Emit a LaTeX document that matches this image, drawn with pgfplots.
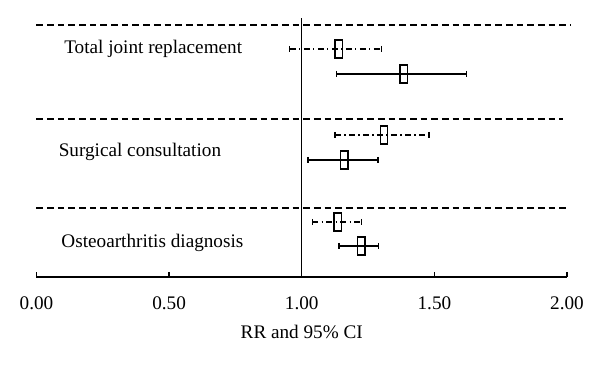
\documentclass[border=0pt]{standalone}
\usepackage{fontspec}
\setmainfont{Liberation Serif}
\usepackage{pgfplots}
\pgfplotsset{compat=1.18}
\pgfdeclareplotmark{tallbox}{%
  \pgfpathrectangle{\pgfpoint{-2.8pt}{-6.8pt}}{\pgfpoint{5.6pt}{13.6pt}}%
  \pgfusepathqstroke}
\tikzset{
  ddot/.style={dash pattern=on 4.5pt off 2.5pt on 1pt off 2.5pt},
  hdash/.style={dash pattern=on 5pt off 3pt, line width=0.8pt},
}
\begin{document}
\begin{tikzpicture}
\path[use as bounding box] (-27.375pt,-66pt) rectangle (422.625pt,207.75pt);
\begin{axis}[
  at={(0,0)}, anchor=south west,
  scale only axis,
  width=397.9pt, height=194.25pt,
  xmin=0, xmax=2, ymin=0, ymax=259,
  axis x line=bottom, axis y line=none,
  axis line style={-, line width=1pt},
  xtick={0,0.5,1,1.5,2},
  xticklabels={0.00,0.50,1.00,1.50,2.00},
  tick align=inside,
  major tick length=3.5pt,
  tick style={line width=1pt, black},
  xticklabel style={anchor=center, yshift=-19.5pt, font=\fontsize{14.4}{16}\selectfont},
  xlabel={RR and 95\% CI},
  xlabel style={at={(axis description cs:0.5,0)}, anchor=center, yshift=-41.25pt, font=\fontsize{14.4}{16}\selectfont},
  clip=false,
]
% reference line at RR = 1
\addplot[black, line width=1pt] coordinates {(1,0) (1,259)};
% separators
\addplot[black, hdash] coordinates {(0,252) (2.011,252)};
\addplot[black, hdash] coordinates {(0,158) (1.985,158)};
\addplot[black, hdash] coordinates {(0,69) (2.0,69)};
% Total joint replacement
\addplot[black, line width=0.95pt, ddot, mark=|, mark size=2.3pt, mark options={solid}] coordinates {(0.955,228) (1.30,228)};
\addplot[black, line width=1.1pt, only marks, mark=tallbox] coordinates {(1.14,228)};
\addplot[black, line width=0.95pt, mark=|, mark size=2.3pt] coordinates {(1.13,203) (1.62,203)};
\addplot[black, line width=1.1pt, only marks, mark=tallbox] coordinates {(1.385,203)};
% Surgical consultation
\addplot[black, line width=0.95pt, ddot, mark=|, mark size=2.3pt, mark options={solid}] coordinates {(1.125,142) (1.48,142)};
\addplot[black, line width=1.1pt, only marks, mark=tallbox] coordinates {(1.31,142)};
\addplot[black, line width=0.95pt, mark=|, mark size=2.3pt] coordinates {(1.023,117) (1.287,117)};
\addplot[black, line width=1.1pt, only marks, mark=tallbox] coordinates {(1.16,117)};
% Osteoarthritis diagnosis
\addplot[black, line width=0.95pt, ddot, mark=|, mark size=2.3pt, mark options={solid}] coordinates {(1.04,55) (1.225,55)};
\addplot[black, line width=1.1pt, only marks, mark=tallbox] coordinates {(1.135,55)};
\addplot[black, line width=0.95pt, mark=|, mark size=2.3pt] coordinates {(1.14,31) (1.29,31)};
\addplot[black, line width=1.1pt, only marks, mark=tallbox] coordinates {(1.225,31)};
% row labels
\node[font=\fontsize{14.4}{16}\selectfont] at (axis cs:0.44,228) {Total joint replacement};
\node[font=\fontsize{14.4}{16}\selectfont] at (axis cs:0.39,125) {Surgical consultation};
\node[font=\fontsize{14.4}{16}\selectfont] at (axis cs:0.437,34) {Osteoarthritis diagnosis};
\end{axis}
\end{tikzpicture}
\end{document}
